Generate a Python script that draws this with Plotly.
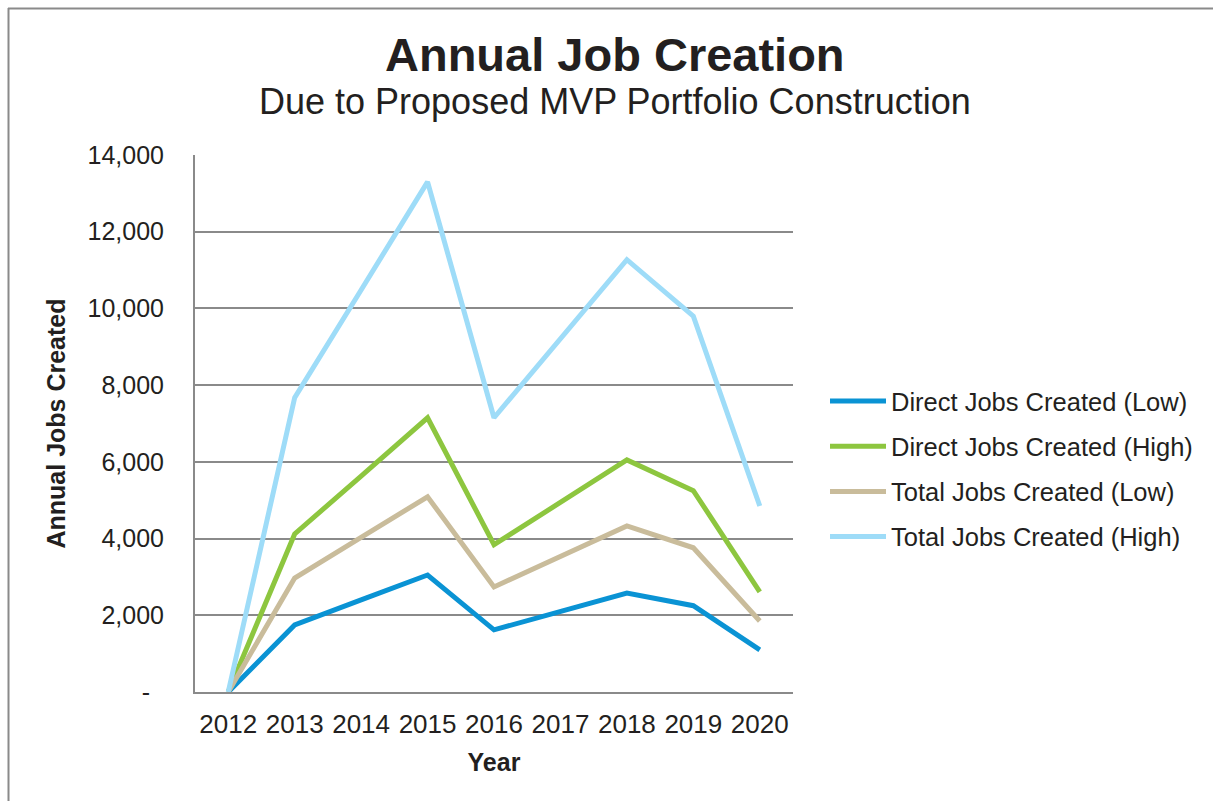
import plotly.graph_objects as go

years = ["2012", "2013", "2014", "2015", "2016", "2017", "2018", "2019", "2020"]
direct_low = [0, 1750, 2400, 3050, 1620, 2100, 2580, 2250, 1100]
direct_high = [0, 4120, 5630, 7150, 3840, 4940, 6050, 5250, 2610]
total_low = [0, 2970, 4030, 5090, 2740, 3530, 4330, 3760, 1850]
total_high = [0, 7670, 10480, 13300, 7150, 9200, 11270, 9800, 4850]

series_names = ["Direct Jobs Created (Low)", "Direct Jobs Created (High)",
                "Total Jobs Created (Low)", "Total Jobs Created (High)"]
series_colors = ["#0A93D4", "#8DC63F", "#C9BC9B", "#9EDCF8"]

ytick_vals = [0, 2000, 4000, 6000, 8000, 10000, 12000, 14000]
ytick_text = ["-\u00a0\u00a0", "2,000", "4,000", "6,000", "8,000", "10,000", "12,000", "14,000"]

FONT = "Liberation Sans, Arial, Helvetica, sans-serif"

fig = go.Figure()
for i, (name, vals, col) in enumerate(zip(series_names, [direct_low, direct_high, total_low, total_high], series_colors)):
    fig.add_trace(go.Scatter(x=years, y=vals, mode="lines", name=name, legendgroup=f"g{i}",
                             line=dict(color=col, width=5)))

L, R, T, B = 195, 420, 155, 109
W, H = 1213, 801
pw, ph = W - L - R, H - T - B

def px_x(p):
    return (p - L) / pw

def px_y(p):
    return (H - B - p) / ph

fig.update_layout(
    width=W, height=H,
    margin=dict(l=L, r=R, t=T, b=B),
    paper_bgcolor="white", plot_bgcolor="white",
    font=dict(family=FONT, color="#231F20"),
    showlegend=True,
    legend=dict(x=px_x(825), y=px_y(378), xanchor="left", yanchor="top",
                font=dict(size=25.5, color="#231F20"), tracegroupgap=9,
                itemwidth=56, bgcolor="rgba(0,0,0,0)"),
    xaxis=dict(type="category", range=[-0.5, 8.5], showgrid=False,
               showline=True, linecolor="#8A8A8A", linewidth=2,
               ticks="", tickfont=dict(size=26), ticklabelstandoff=8,
               title=dict(text="<b>Year</b>", font=dict(size=25), standoff=15),
               fixedrange=True),
    yaxis=dict(range=[0, 14000], tickvals=ytick_vals, ticktext=ytick_text,
               showgrid=True, gridcolor="#8A8A8A", gridwidth=1.5,
               showline=True, linecolor="#8A8A8A", linewidth=2,
               zeroline=False, ticks="", tickfont=dict(size=25),
               ticklabelstandoff=24,
               title=dict(text="<b>Annual Jobs Created</b>", font=dict(size=25), standoff=15),
               fixedrange=True),
    annotations=[
        dict(text="<b>Annual Job Creation</b>", x=px_x(615), y=px_y(55), xref="paper", yref="paper",
             xanchor="center", yanchor="middle", showarrow=False, font=dict(size=47, color="#231F20")),
        dict(text="Due to Proposed MVP Portfolio Construction", x=px_x(615), y=px_y(102), xref="paper", yref="paper",
             xanchor="center", yanchor="middle", showarrow=False, font=dict(size=36, color="#231F20")),
    ],
    shapes=[
        dict(type="line", xref="paper", yref="paper", x0=px_x(8), x1=px_x(1220), y0=px_y(8.5), y1=px_y(8.5),
             line=dict(color="#8A8A8A", width=2)),
        dict(type="line", xref="paper", yref="paper", x0=px_x(8.5), x1=px_x(8.5), y0=px_y(8), y1=px_y(810),
             line=dict(color="#8A8A8A", width=2)),
    ],
)

fig.write_html("out.html", config={"displayModeBar": False})

# remove the browser's default page margin so the figure sits at the window origin
with open("out.html", "r", encoding="utf-8") as f:
    html = f.read()
html = html.replace("<body>", '<body style="margin:0;padding:0;overflow:hidden">', 1)
with open("out.html", "w", encoding="utf-8") as f:
    f.write(html)
